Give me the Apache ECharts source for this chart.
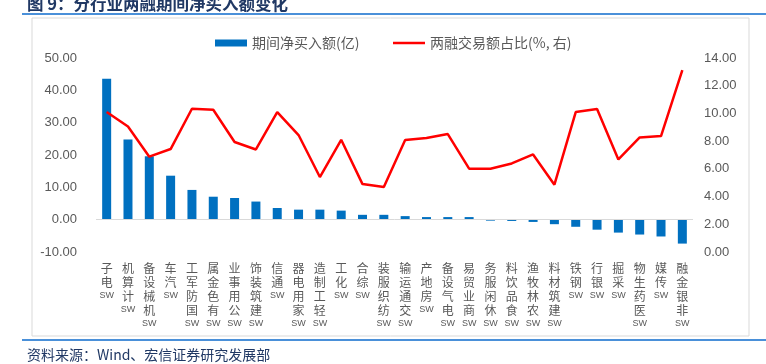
<!DOCTYPE html>
<html>
<head>
<meta charset="utf-8">
<script src="https://cdn.jsdelivr.net/npm/echarts@6/dist/echarts.min.js"></script>
<style>
  html, body {margin: 0; padding: 0; background: #fff;}
  #chart {width: 766px; height: 364px;}
</style>
</head>
<body>
<div id="chart"></div>
<script>
// 行业
const categories = ['SW电子', 'SW计算机', 'SW机械设备', 'SW汽车', 'SW国防军工', 'SW有色金属', 'SW公用事业',
  'SW建筑装饰', 'SW通信', 'SW家用电器', 'SW轻工制造', 'SW化工', 'SW综合', 'SW纺织服装', 'SW交通运输',
  'SW房地产', 'SW电气设备', 'SW商业贸易', 'SW休闲服务', 'SW食品饮料', 'SW农林牧渔', 'SW建筑材料',
  'SW钢铁', 'SW银行', 'SW采掘', 'SW医药生物', 'SW传媒', 'SW非银金融'];
// 期间净买入额(亿)
const netBuy = [43.6, 24.8, 19.6, 13.6, 9.2, 7.1, 6.7, 5.6, 3.6, 3.1, 3.1, 2.8, 1.5, 1.5, 1.1,
  0.8, 0.8, 0.8, -0.3, -0.4, -0.7, -1.4, -2.2, -3.1, -4.0, -4.6, -5.2, -7.4];
// 两融交易额占比(%)
const ratio = [10.1, 9.06, 6.88, 7.43, 10.34, 10.27, 7.94, 7.4, 10.1, 8.44, 5.41, 8.1, 4.9, 4.69, 8.08,
  8.22, 8.51, 6.01, 6.01, 6.39, 7.04, 4.86, 10.1, 10.32, 6.68, 8.27, 8.37, 13.13];
const leftTicks = {min: -10, max: 50, interval: 10};
const rightTicks = {min: 0, max: 14, interval: 2};

const gray = '#595959';
const font = "'Liberation Sans', 'Noto Sans CJK SC', sans-serif";
const legendText = {color: gray, fontSize: 14, fontFamily: 'Noto Sans CJK SC'};

const myChart = echarts.init(document.getElementById('chart'));
myChart.setOption({
  animation: false,
  backgroundColor: '#fff',
  textStyle: {fontFamily: font},
  title: [{
    text: '图 9：分行业两融期间净买入额变化',
    left: 22, top: -10,
    textStyle: {fontSize: 16.5, fontWeight: 'bold', color: '#203864', fontFamily: 'Noto Sans CJK SC'}
  }, {
    text: '资料来源：Wind、宏信证券研究发展部',
    left: 22, top: 343,
    textStyle: {fontSize: 14, fontWeight: 'normal', color: '#203864', fontFamily: 'Noto Sans CJK SC'}
  }],
  graphic: [
    {type: 'line', shape: {x1: 22, y1: 14, x2: 766, y2: 14}, style: {stroke: '#4A90D9', lineWidth: 2}},
    {type: 'rect', shape: {x: 32, y: 18, width: 717, height: 318}, style: {fill: null, stroke: '#D9D9D9', lineWidth: 1}},
    {type: 'line', shape: {x1: 22, y1: 340, x2: 766, y2: 340}, style: {stroke: '#4A90D9', lineWidth: 2}}
  ],
  legend: [{
    left: 210, top: 31,
    itemWidth: 32, itemHeight: 7,
    icon: 'rect',
    textStyle: legendText,
    data: ['期间净买入额(亿)']
  }, {
    left: 388, top: 31,
    itemWidth: 32, itemHeight: 2.5,
    icon: 'rect',
    textStyle: legendText,
    data: ['两融交易额占比(%, 右)']
  }],
  grid: {left: 96, right: 73, top: 58, bottom: 112},
  xAxis: {
    type: 'category',
    data: categories,
    axisLine: {show: false, onZero: false},
    axisTick: {show: false},
    axisLabel: {
      interval: 0,
      margin: 9,
      color: gray,
      fontSize: 12,
      lineHeight: 14,
      fontFamily: 'Noto Sans CJK SC',
      formatter: function (v) {
        const chars = v.slice(2).split('').reverse();
        return chars.join('\n') + '\n{sw|SW}';
      },
      rich: {sw: {fontSize: 9, lineHeight: 14, color: gray, fontFamily: "'Liberation Sans'"}}
    }
  },
  yAxis: [{
    type: 'value',
    ...leftTicks,
    axisLine: {show: false},
    axisTick: {show: false},
    splitLine: {show: false},
    axisLabel: {color: gray, fontSize: 13, margin: 19, formatter: v => v.toFixed(2)}
  }, {
    type: 'value',
    ...rightTicks,
    axisLine: {show: false},
    axisTick: {show: false},
    splitLine: {show: false},
    axisLabel: {color: gray, fontSize: 13, margin: 11, formatter: v => v.toFixed(2)}
  }],
  series: [{
    name: '期间净买入额(亿)',
    type: 'bar',
    data: netBuy,
    barWidth: 9,
    itemStyle: {color: '#0070C0'},
    markLine: {
      silent: true,
      symbol: 'none',
      label: {show: false},
      lineStyle: {color: '#D9D9D9', width: 1, type: 'solid'},
      data: [{yAxis: 0}]
    }
  }, {
    name: '两融交易额占比(%, 右)',
    type: 'line',
    yAxisIndex: 1,
    data: ratio,
    symbol: 'none',
    lineStyle: {color: '#FF0000', width: 2.5},
    itemStyle: {color: '#FF0000'},
    z: 5
  }]
});
</script>
</body>
</html>
